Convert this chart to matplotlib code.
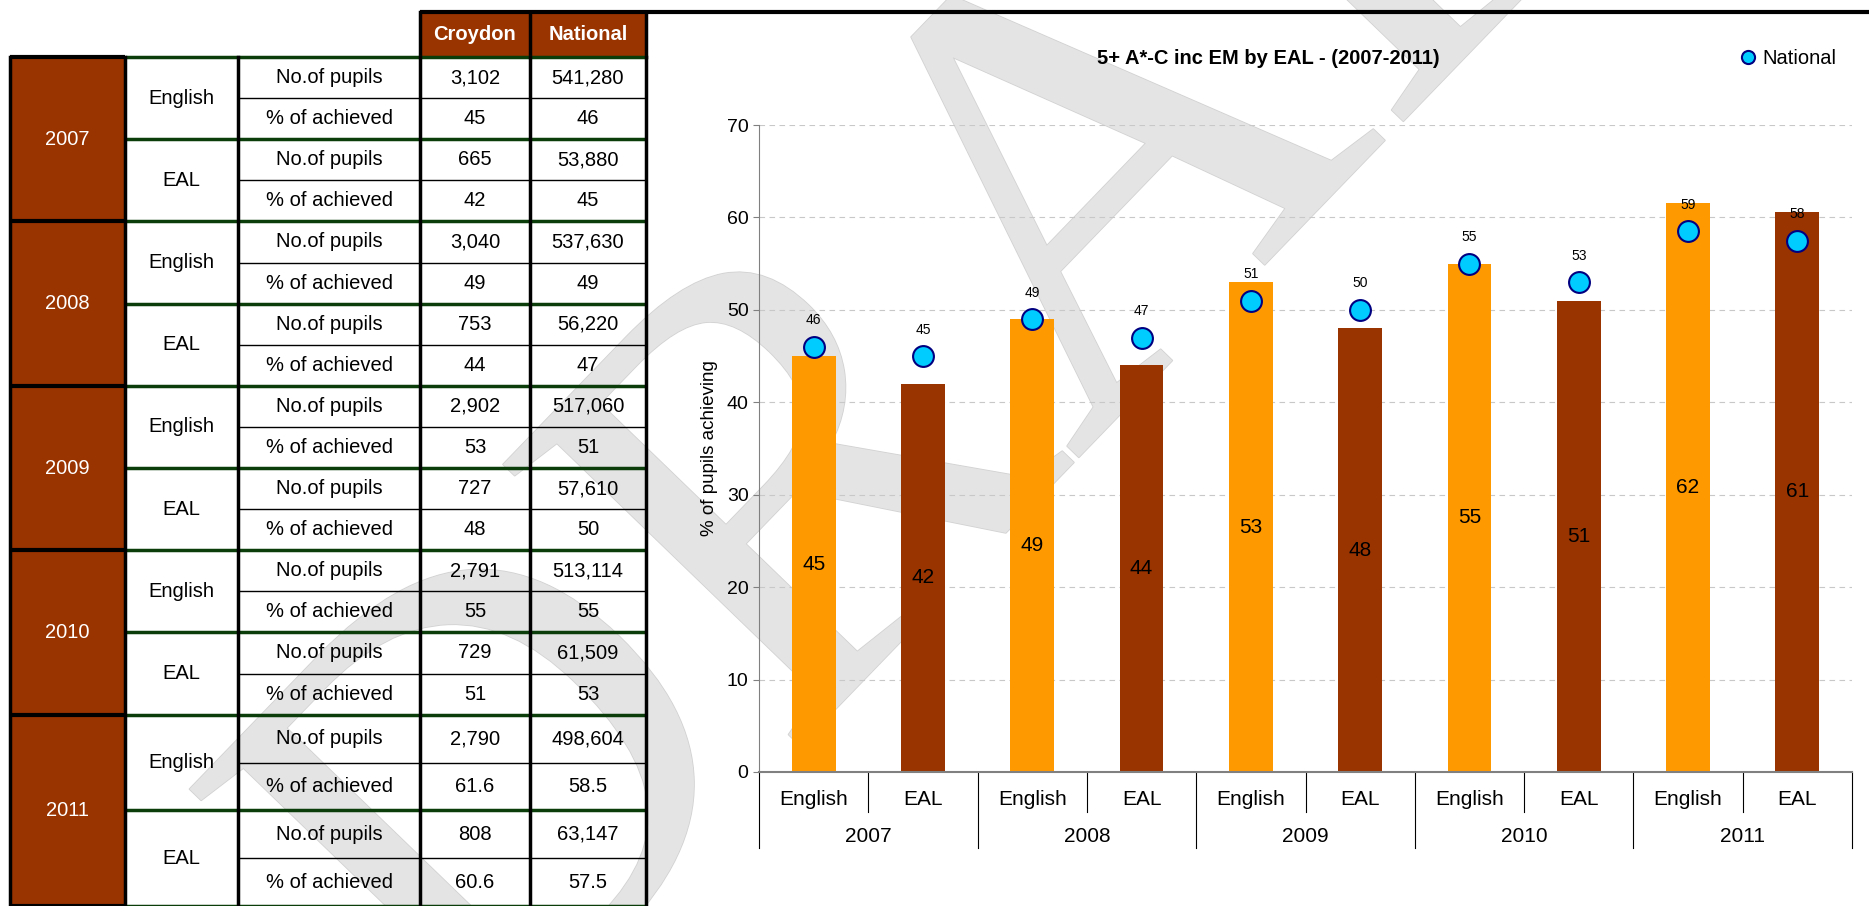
import numpy as np
import matplotlib.pyplot as plt
import matplotlib.patheffects as pe
from matplotlib.patches import Rectangle

plt.rcParams.update({
    "font.family": ["Liberation Sans", "DejaVu Sans"],
    "font.size": 12,
})

# --- data ---
years = ["2007", "2008", "2009", "2010", "2011"]
groups = ["English", "EAL"]
measures = ["No.of pupils", "% of achieved"]
croydon_pupils = ["3,102", "665", "3,040", "753", "2,902", "727", "2,791", "729", "2,790", "808"]
national_pupils = ["541,280", "53,880", "537,630", "56,220", "517,060", "57,610",
                   "513,114", "61,509", "498,604", "63,147"]
croydon_pct = [45, 42, 49, 44, 53, 48, 55, 51, 61.6, 60.6]
national_pct = [46, 45, 49, 47, 51, 50, 55, 53, 58.5, 57.5]

ORANGE = "#FF9900"
BROWN = "#993300"
GREEN = "#0B3D0B"

W, H = 1869, 906
fig = plt.figure(figsize=(W / 100, H / 100), dpi=100)

# watermark, behind everything
fig.text(0.575, 0.73, "DRAFT", rotation=46, fontsize=450, family="Liberation Serif",
         color="#e4e4e4", ha="center", va="center", zorder=-1,
         path_effects=[pe.withStroke(linewidth=1.2, foreground="#d2d2d2")])

# ==========================================
# TABLE (drawn in pixel coordinates)
# ==========================================
tax = fig.add_axes([0, 0, 1, 1], zorder=0)
tax.set_xlim(0, W)
tax.set_ylim(H, 0)
tax.axis("off")

FS = 14.5
col_x = [10, 125, 238, 420, 530, 646]
head_top, head_bot = 12, 57
row_h = [41.1] * 16 + [47.9] * 4
row_y = np.concatenate([[head_bot], head_bot + np.cumsum(row_h)])

# header
for j, name in enumerate(["Croydon", "National"]):
    x0, x1 = col_x[3 + j], col_x[4 + j]
    tax.add_patch(Rectangle((x0, head_top), x1 - x0, head_bot - head_top, color=BROWN))
    tax.text((x0 + x1) / 2, (head_top + head_bot) / 2, name, color="white",
             weight="bold", ha="center", va="center", fontsize=FS)
tax.plot([col_x[3], W], [head_top, head_top], color="black", lw=3, solid_capstyle="butt")
for x in col_x[3:]:
    tax.plot([x, x], [head_top, head_bot], color="black", lw=2.5)

# body
for i, yr in enumerate(years):
    y0, y1 = row_y[4 * i], row_y[4 * i + 4]
    tax.add_patch(Rectangle((col_x[0], y0), col_x[1] - col_x[0], y1 - y0, color=BROWN))
    tax.text((col_x[0] + col_x[1]) / 2, (y0 + y1) / 2, yr, color="white",
             ha="center", va="center", fontsize=FS)
    for g, grp in enumerate(groups):
        k = 2 * i + g
        gy0, gy1 = row_y[4 * i + 2 * g], row_y[4 * i + 2 * g + 2]
        tax.text((col_x[1] + col_x[2]) / 2, (gy0 + gy1) / 2, grp,
                 ha="center", va="center", fontsize=FS)
        vals = [(croydon_pupils[k], national_pupils[k]),
                (f"{croydon_pct[k]:g}", f"{national_pct[k]:g}")]
        for m, meas in enumerate(measures):
            r = 4 * i + 2 * g + m
            yc = (row_y[r] + row_y[r + 1]) / 2
            tax.text((col_x[2] + col_x[3]) / 2, yc, meas, ha="center", va="center", fontsize=FS)
            tax.text((col_x[3] + col_x[4]) / 2, yc, vals[m][0], ha="center", va="center", fontsize=FS)
            tax.text((col_x[4] + col_x[5]) / 2, yc, vals[m][1], ha="center", va="center", fontsize=FS)

# row lines
for r, y in enumerate(row_y):
    if r % 4 == 0:
        tax.plot([col_x[0], col_x[1]], [y, y], color="black", lw=3, solid_capstyle="butt")
        tax.plot([col_x[1], col_x[5]], [y, y], color=GREEN, lw=2.5, solid_capstyle="butt")
    elif r % 2 == 0:
        tax.plot([col_x[1], col_x[5]], [y, y], color=GREEN, lw=2.5, solid_capstyle="butt")
    else:
        tax.plot([col_x[2], col_x[5]], [y, y], color="black", lw=1, solid_capstyle="butt")
for x in col_x:
    tax.plot([x, x], [head_bot, H], color="black", lw=2.5)

# ==========================================
# CHART
# ==========================================
ax = fig.add_axes([759 / W, 1 - 772 / H, (1852 - 759) / W, (772 - 125) / H], zorder=5)
ax.patch.set_alpha(0)

x = np.arange(len(croydon_pct))
bar_colors = [ORANGE, BROWN] * len(years)
ax.bar(x, croydon_pct, width=0.4, color=bar_colors, zorder=2)
ax.plot(x, national_pct, "o", ms=15, mfc="#00CCFF", mec="#000080", mew=1.5,
        zorder=3, label="National", clip_on=False)

for xi, v in zip(x, croydon_pct):
    ax.text(xi, v / 2, f"{int(np.floor(v + 0.5))}", ha="center", va="center", fontsize=15, zorder=4)
for xi, v in zip(x, national_pct):
    ax.annotate(f"{int(np.floor(v + 0.5))}", (xi, v), xytext=(0, 19), textcoords="offset points",
                ha="center", va="center", fontsize=10, zorder=4)

ax.set_xlim(-0.5, 9.5)
ax.set_ylim(0, 70)
ax.set_yticks(range(0, 71, 10))
ax.set_xticks([])
ax.yaxis.grid(True, ls=(0, (5, 4)), color="#c8c8c8", lw=0.8)
ax.set_axisbelow(True)
for s in ["top", "right"]:
    ax.spines[s].set_visible(False)
ax.spines["left"].set_color("#808080")
ax.spines["bottom"].set_color("#808080")
ax.spines["bottom"].set_linewidth(1.5)
ax.tick_params(axis="y", length=4, color="#808080", labelsize=14)
ax.set_ylabel("% of pupils achieving", fontsize=13.5, labelpad=6)

trans = ax.get_xaxis_transform()
for xi in x:
    ax.text(xi, -0.043, groups[xi % 2], transform=trans, ha="center", va="center", fontsize=15)
for i, yr in enumerate(years):
    ax.text(2 * i + 0.5, -0.10, yr, transform=trans, ha="center", va="center", fontsize=15)
for xs in np.arange(0.5, 10, 2):
    ax.plot([xs, xs], [0, -0.062], transform=trans, color="black", lw=0.8, clip_on=False)
for xs in np.arange(-0.5, 10, 2):
    ax.plot([xs, xs], [0, -0.117], transform=trans, color="black", lw=0.8, clip_on=False)

fig.text(1268 / W, 1 - 59 / H, "5+ A*-C inc EM by EAL - (2007-2011)", weight="bold",
         ha="center", va="center", fontsize=14.5, zorder=6)
ax.legend(loc="center left", bbox_to_anchor=(1728 / W, 1 - 59 / H), bbox_transform=fig.transFigure,
          frameon=False, handletextpad=0.1, markerscale=0.63, fontsize=14.5, borderaxespad=0,
          handlelength=1.2)

fig.savefig("out.png", dpi=100)
